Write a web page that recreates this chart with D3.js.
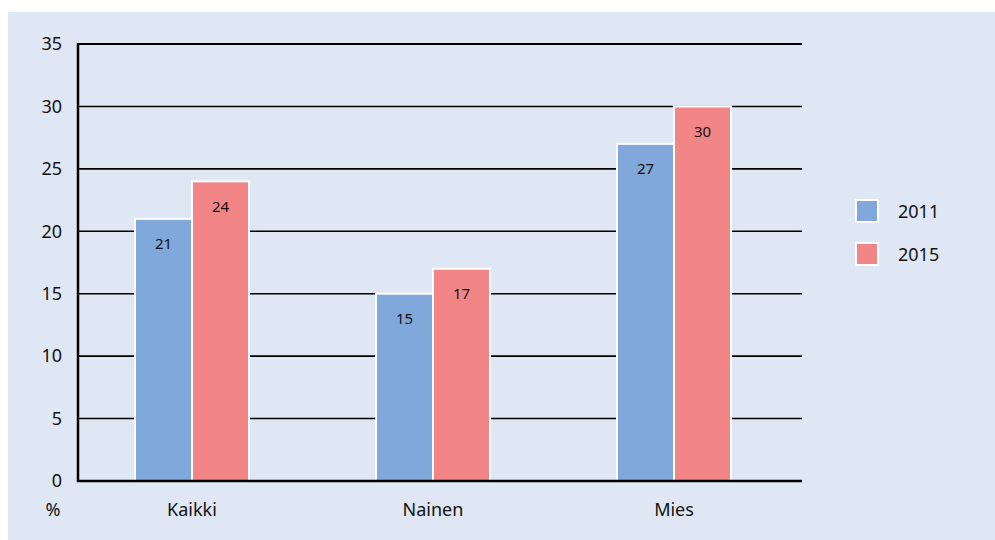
<!DOCTYPE html>
<meta charset="utf-8">
<script src="https://d3js.org/d3.v7.min.js"></script>
<style>
  body { margin: 0; background: #fff; }
  text { font-family: "Noto Sans", "DejaVu Sans", sans-serif; fill: #111; }
</style>
<div id="viz"></div>
<script>

var categories = ["Kaikki", "Nainen", "Mies"];
var years = ["2011", "2015"];
var values2011 = [21, 15, 27];
var values2015 = [24, 17, 30];
var yTicks = [0, 5, 10, 15, 20, 25, 30, 35];
var colors = ["#80a8da", "#f28686"];

var width = 995, height = 540;

var svg = d3.select("#viz")
  .append("svg")
    .attr("width", width)
    .attr("height", height);

svg.append("rect")
  .attr("x", 8)
  .attr("y", 12)
  .attr("width", width - 8)
  .attr("height", height - 12)
  .style("fill", "#e0e7f4");

var x0 = d3.scaleBand()
  .domain(categories)
  .range([71.5, 794.5])
  .paddingInner(0.527)
  .paddingOuter(0.2635);

var x1 = d3.scaleBand()
  .domain(years)
  .range([0, x0.bandwidth()]);

var y = d3.scaleLinear()
  .domain([0, 35])
  .range([481, 44]);

// gridlines
svg.append("g")
  .selectAll("line")
  .data(yTicks.filter(function (d) { return d > 0; }))
  .enter()
  .append("line")
    .attr("x1", 78)
    .attr("x2", 802)
    .attr("y1", function (d) { return y(d); })
    .attr("y2", function (d) { return y(d); })
    .style("stroke", "#000")
    .style("stroke-width", 1.6);

// y tick labels
svg.append("g")
  .selectAll("text")
  .data(yTicks)
  .enter()
  .append("text")
    .attr("x", 62)
    .attr("y", function (d) { return y(d); })
    .attr("dy", "0.35em")
    .attr("text-anchor", "end")
    .style("font-size", "18px")
    .text(function (d) { return d; });

svg.append("text")
  .attr("x", 53)
  .attr("y", 510)
  .attr("dy", "0.35em")
  .attr("text-anchor", "middle")
  .style("font-size", "18px")
  .text("%");

// bars
var rows = categories.map(function (c, i) {
  return { cat: c, vals: [values2011[i], values2015[i]] };
});

var groups = svg.append("g")
  .selectAll("g")
  .data(rows)
  .enter()
  .append("g")
    .attr("transform", function (d) { return "translate(" + x0(d.cat) + ",0)"; });

groups.selectAll("rect")
  .data(function (d) { return d.vals.map(function (v, j) { return { year: years[j], v: v, j: j }; }); })
  .enter()
  .append("rect")
    .attr("x", function (d) { return x1(d.year); })
    .attr("y", function (d) { return y(d.v); })
    .attr("width", x1.bandwidth())
    .attr("height", function (d) { return y(0) - y(d.v); })
    .style("fill", function (d) { return colors[d.j]; })
    .style("stroke", "#fff")
    .style("stroke-width", 2);

groups.selectAll("text")
  .data(function (d) { return d.vals.map(function (v, j) { return { year: years[j], v: v }; }); })
  .enter()
  .append("text")
    .attr("x", function (d) { return x1(d.year) + x1.bandwidth() / 2; })
    .attr("y", function (d) { return y(d.v) + 25; })
    .attr("dy", "0.35em")
    .attr("text-anchor", "middle")
    .style("font-size", "15px")
    .text(function (d) { return d.v; });

// axes lines
svg.append("line")
  .attr("x1", 78).attr("x2", 78)
  .attr("y1", 43).attr("y2", 482)
  .style("stroke", "#000")
  .style("stroke-width", 2.5);

svg.append("line")
  .attr("x1", 77).attr("x2", 802)
  .attr("y1", y(0)).attr("y2", y(0))
  .style("stroke", "#000")
  .style("stroke-width", 2.5);

svg.append("line")
  .attr("x1", 77).attr("x2", 802)
  .attr("y1", y(35)).attr("y2", y(35))
  .style("stroke", "#000")
  .style("stroke-width", 2);

// category labels
svg.append("g")
  .selectAll("text")
  .data(categories)
  .enter()
  .append("text")
    .attr("x", function (d) { return x0(d) + x0.bandwidth() / 2; })
    .attr("y", 510)
    .attr("dy", "0.35em")
    .attr("text-anchor", "middle")
    .style("font-size", "18px")
    .text(function (d) { return d; });

// legend
var legend = svg.append("g")
  .selectAll("g")
  .data(years)
  .enter()
  .append("g")
    .attr("transform", function (d, i) { return "translate(856," + (200 + i * 43) + ")"; });

legend.append("rect")
  .attr("width", 22)
  .attr("height", 22)
  .style("fill", function (d, i) { return colors[i]; })
  .style("stroke", "#fff")
  .style("stroke-width", 2);

legend.append("text")
  .attr("x", 42)
  .attr("y", 12)
  .attr("dy", "0.35em")
  .style("font-size", "18px")
  .text(function (d) { return d; });

</script>
